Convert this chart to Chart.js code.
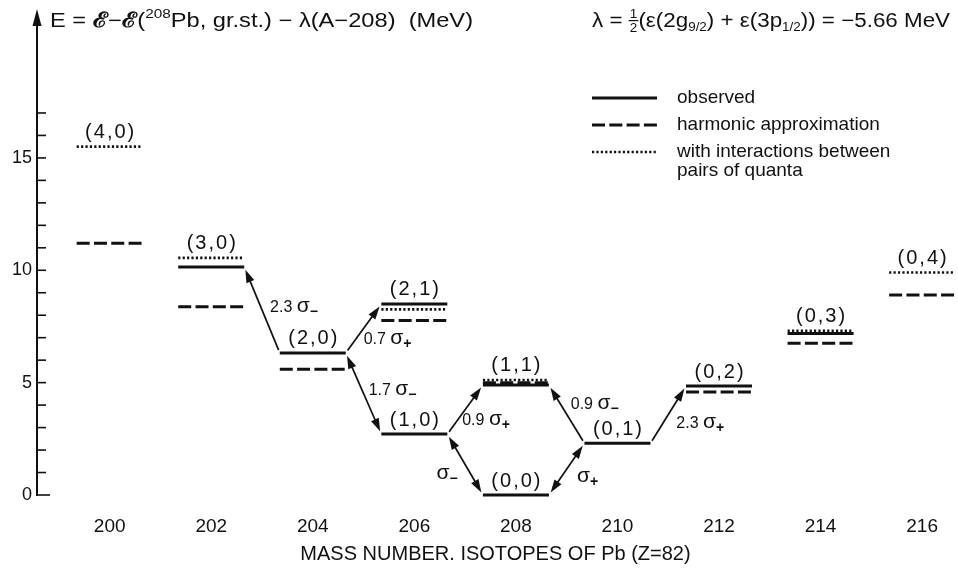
<!DOCTYPE html>
<html><head><meta charset="utf-8">
<script src="https://cdn.jsdelivr.net/npm/chart.js@4.4.1/dist/chart.umd.min.js"></script>
<style>html,body{margin:0;padding:0;background:#fff}canvas{display:block}</style>
</head><body>
<canvas id="c" width="958" height="576"></canvas>
<script>
// ---------- data ----------
const massTicks = [200,202,204,206,208,210,212,214,216];
const yTicks = [0,1,2,3,4,5,6,7,8,9,10,11,12,13,14,15,16,17];
const levelNames = ['(4,0)','(3,0)','(2,0)','(2,1)','(1,0)','(1,1)','(0,0)','(0,1)','(0,2)','(0,3)','(0,4)'];
const levelMass  = [200,202,204,206,206,208,208,210,212,214,216];
const observed    = [null,10.15,6.32,8.5,2.71,4.89,0,2.3,4.85,7.19,null];
const harmonic    = [11.2,8.38,5.6,7.76,null,5.0,null,null,4.58,6.75,8.9];
const interacting = [15.5,10.55,null,8.26,null,5.12,null,null,null,7.31,9.9];
// transitions between levels
const arrowFrom     = ['(2,0)','(2,0)','(2,0)','(1,0)','(1,0)','(0,0)','(0,1)','(0,1)'];
const arrowFromSide = ['L','R','R','R','R','R','L','R'];
const arrowTo       = ['(3,0)','(2,1)','(1,0)','(1,1)','(0,0)','(0,1)','(1,1)','(0,2)'];
const arrowToSide   = ['R','L','L','L','L','L','R','L'];
const arrowBoth     = [false,false,true,false,true,true,false,false];
const arrowCoef     = ['2.3','0.7','1.7','0.9','','','0.9','2.3'];
const arrowSign     = ['−','+','−','+','−','+','−','+'];
const seriesLabels  = ['observed','harmonic approximation','with interactions between|pairs of quanta'];
const xTitle = 'MASS NUMBER. ISOTOPES OF Pb (Z=82)';

// ---------- styles ----------
const HALF = 0.65; // half width of a level bar in mass units
const INK = '#111';
const arrowLabelOffset = [[32,-4],[24,10],[29,-5],[21,9],[-18,8],[21,7],[28,-11],[32,7]];
const SANS = "'Liberation Sans', Arial, sans-serif";

function segs(vals){
  const out=[];
  vals.forEach((v,i)=>{ if(v===null) return;
    out.push({x:levelMass[i]-HALF,y:v},{x:levelMass[i]+HALF,y:v},{x:levelMass[i]+HALF,y:null}); });
  return out;
}

function drawRich(ctx, parts, x, y, align, fit){
  const w = parts.map(p=>{
    if(p.frac){ ctx.font=p.f; return Math.max(ctx.measureText(p.n).width, ctx.measureText(p.d).width)+2; }
    ctx.font=p.f; return ctx.measureText(p.t).width;});
  const total = w.reduce((a,b)=>a+b,0);
  const sx = fit ? fit/total : 1;
  const start = align==='right' ? x-total*sx : align==='center' ? x-total*sx/2 : x;
  ctx.save(); ctx.translate(start,y); ctx.scale(sx,1);
  ctx.textAlign='left'; ctx.textBaseline='alphabetic'; ctx.fillStyle=INK;
  let cx=0;
  parts.forEach((p,i)=>{
    ctx.font=p.f;
    if(p.frac){
      ctx.textAlign='center';
      ctx.fillText(p.n, cx+w[i]/2, -9);
      ctx.fillText(p.d, cx+w[i]/2, 5);
      ctx.fillRect(cx, -7, w[i], 1.2);
      ctx.textAlign='left';
    } else ctx.fillText(p.t, cx, p.dy||0);
    cx+=w[i];
  });
  ctx.restore();
}

function drawArrow(ctx,x1,y1,x2,y2,both){
  const dx=x2-x1, dy=y2-y1, L=Math.hypot(dx,dy), ux=dx/L, uy=dy/L, sh=3, hl=13, hw=4.2;
  const ax=x1+ux*sh, ay=y1+uy*sh, bx=x2-ux*sh, by=y2-uy*sh;
  ctx.save(); ctx.strokeStyle=INK; ctx.fillStyle=INK; ctx.lineWidth=1.7;
  ctx.beginPath();
  ctx.moveTo(both?ax+ux*hl*0.7:ax, both?ay+uy*hl*0.7:ay);
  ctx.lineTo(bx-ux*hl*0.7, by-uy*hl*0.7); ctx.stroke();
  const head=(tx,ty,vx,vy)=>{ ctx.beginPath(); ctx.moveTo(tx,ty);
    ctx.lineTo(tx-vx*hl-vy*hw, ty-vy*hl+vx*hw); ctx.lineTo(tx-vx*hl+vy*hw, ty-vy*hl-vx*hw); ctx.closePath(); ctx.fill(); };
  head(bx,by,ux,uy);
  if(both) head(ax,ay,-ux,-uy);
  ctx.restore();
}

const annot = {
  id:'annot',
  afterDraw(chart){
    const ctx=chart.ctx, xs=chart.scales.x, ys=chart.scales.y, ca=chart.chartArea;
    // y-axis inner ticks and arrow
    ctx.save(); ctx.strokeStyle=INK; ctx.lineWidth=1.6;
    yTicks.forEach(v=>{ const py=ys.getPixelForValue(v);
      ctx.beginPath(); ctx.moveTo(ca.left, py); ctx.lineTo(ca.left+(v===0?13:9), py); ctx.stroke(); });
    ctx.fillStyle=INK; ctx.beginPath(); ctx.moveTo(ca.left,9); ctx.lineTo(ca.left-4.5,26); ctx.lineTo(ca.left+4.5,26); ctx.closePath(); ctx.fill();
    ctx.restore();

    // level labels
    const idx = n=>levelNames.indexOf(n);
    const lvlY = i => observed[i]!==null ? observed[i] : harmonic[i];
    ctx.save(); ctx.fillStyle=INK; ctx.font='20px '+SANS; ctx.textAlign='center'; ctx.textBaseline='middle';
    try{ ctx.letterSpacing='2px'; }catch(e){}
    levelNames.forEach((n,i)=>{
      const top = Math.max(...[observed[i],harmonic[i],interacting[i]].filter(v=>v!==null));
      ctx.fillText(n, xs.getPixelForValue(levelMass[i])+1, ys.getPixelForValue(top)-14);
    });
    ctx.restore();

    // arrows
    const end=(n,s)=>{const i=idx(n); return [xs.getPixelForValue(levelMass[i]+(s==='L'?-HALF:HALF)), ys.getPixelForValue(lvlY(i))];};
    arrowFrom.forEach((f,k)=>{
      const [x1,y1]=end(f,arrowFromSide[k]), [x2,y2]=end(arrowTo[k],arrowToSide[k]);
      drawArrow(ctx,x1,y1,x2,y2,arrowBoth[k]);
      const mx=(x1+x2)/2+arrowLabelOffset[k][0], my=(y1+y2)/2+arrowLabelOffset[k][1]+6;
      const parts=[];
      if(arrowCoef[k]) parts.push({t:arrowCoef[k]+' ', f:'16px '+SANS});
      parts.push({t:'σ', f:'21px '+SANS});
      parts.push({t:arrowSign[k], f:'bold 14px '+SANS, dy:4});
      drawRich(ctx, parts, mx, my, 'center');
    });

    // titles
    drawRich(ctx,[
      {t:'E = ', f:'20px '+SANS},
      {t:'ℰ', f:'bold 21px "DejaVu Serif", serif'},
      {t:'−', f:'20px '+SANS},
      {t:'ℰ', f:'bold 21px "DejaVu Serif", serif'},
      {t:'(', f:'20px '+SANS},
      {t:'208', f:'13px '+SANS, dy:-9},
      {t:'Pb, gr.st.) − λ(A−208)  (MeV)', f:'20px '+SANS}
    ], 50, 27, 'left', 423);
    drawRich(ctx,[
      {t:'λ = ', f:'20px '+SANS},
      {frac:true, n:'1', d:'2', f:'12px '+SANS},
      {t:'(ε(2g', f:'20px '+SANS},
      {t:'9/2', f:'12px '+SANS, dy:4},
      {t:') + ε(3p', f:'20px '+SANS},
      {t:'1/2', f:'12px '+SANS, dy:4},
      {t:')) = −5.66 MeV', f:'20px '+SANS}
    ], 592, 27, 'left', 358);

    // legend
    const ly=[98,125,152];
    chart.data.datasets.forEach((ds,i)=>{
      ctx.save(); ctx.strokeStyle=ds.borderColor; ctx.lineWidth=ds.borderWidth; ctx.setLineDash(ds.borderDash||[]);
      ctx.beginPath(); ctx.moveTo(592,ly[i]); ctx.lineTo(657,ly[i]); ctx.stroke(); ctx.restore();
      ctx.save(); ctx.fillStyle=INK; ctx.font='19px '+SANS; ctx.textBaseline='middle'; ctx.textAlign='left';
      ds.label.split('|').forEach((t,j)=>ctx.fillText(t,677,ly[i]+j*19)); ctx.restore();
    });
  }
};

new Chart(document.getElementById('c'), {
  type:'line',
  data:{ datasets:[
    {label:seriesLabels[0], data:segs(observed), borderColor:INK, borderWidth:3, borderDash:[], pointRadius:0, clip:false, spanGaps:false},
    {label:seriesLabels[1], data:segs(harmonic), borderColor:INK, borderWidth:3, borderDash:[13,4.3], pointRadius:0, clip:false, spanGaps:false},
    {label:seriesLabels[2], data:segs(interacting), borderColor:INK, borderWidth:2.6, borderDash:[2.2,2.2], pointRadius:0, clip:false, spanGaps:false}
  ]},
  options:{
    responsive:false, animation:false, devicePixelRatio:1,
    layout:{padding:{top:17,left:0,right:0,bottom:0}},
    plugins:{legend:{display:false}, tooltip:{enabled:false}},
    scales:{
      x:{type:'linear', min:198.569, max:216.627,
        afterBuildTicks:s=>{s.ticks=massTicks.map(v=>({value:v}));},
        afterFit:s=>{s.height=81;},
        grid:{display:false, drawTicks:false, tickLength:0}, border:{display:false},
        ticks:{color:INK, font:{family:SANS,size:19}, padding:20, maxRotation:0, autoSkip:false, callback:v=>String(v)},
        title:{display:true, text:xTitle, color:INK, font:{family:SANS,size:20}, padding:{top:0,bottom:10}}
      },
      y:{type:'linear', min:0, max:21.27,
        afterBuildTicks:s=>{s.ticks=yTicks.map(v=>({value:v}));},
        afterFit:s=>{s.width=37;},
        grid:{display:false, drawTicks:false, tickLength:0}, border:{display:true, color:INK, width:2},
        ticks:{color:INK, font:{family:SANS,size:18}, padding:5, autoSkip:false, callback:v=>(v%5===0?String(v):'')}
      }
    }
  },
  plugins:[annot]
});
</script>
</body></html>
